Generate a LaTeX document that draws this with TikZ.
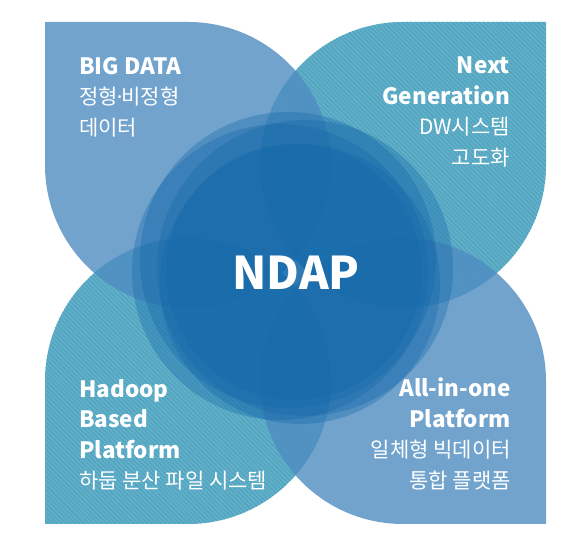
\documentclass[tikz,border=0pt]{standalone}
\usepackage{fontspec}
\setmainfont{Noto Sans CJK KR}
\newfontfamily\latinsans{Noto Sans}
\usetikzlibrary{patterns.meta}
\definecolor{petalblue}{RGB}{78,140,193}
\definecolor{petalteal}{RGB}{96,176,201}
\definecolor{stripeteal}{RGB}{80,160,190}
\definecolor{coreblue}{RGB}{20,104,170}
\newcommand{\engline}[1]{{\bfseries\fontsize{22.5}{30.5}\selectfont #1}}

\begin{document}
\begin{tikzpicture}[x=1pt, y=1pt,
  tealpetal/.style={fill=petalteal,
                    postaction={pattern={Lines[angle=-45, distance=3.2pt, line width=0.9pt]},
                                pattern color=stripeteal}},
  bluepetal/.style={fill=petalblue, fill opacity=0.8},
  blob/.style={fill=coreblue, fill opacity=0.35},
  petaltext/.style={text=white, inner sep=0pt, font=\fontsize{21}{30.5}\selectfont},
  centertext/.style={text=white, inner sep=0pt, font=\bfseries\fontsize{45}{45}\selectfont},
]
\useasboundingbox (0,0) rectangle (587,548);

%% ── Petals ────────────────────────────────────────────────────────────────
% teal ones first (top right, bottom left)
\fill[tealpetal] (546,526) -- (546,383) arc[start angle=0, end angle=-270, radius=143] -- cycle;
\fill[tealpetal] (45,24) -- (45,167) arc[start angle=180, end angle=-90, radius=143] -- cycle;
% blue ones on top (top left, bottom right)
\fill[bluepetal] (45,526) -- (188,526) arc[start angle=90, end angle=-180, radius=143] -- cycle;
\fill[bluepetal] (546,24) -- (403,24) arc[start angle=-90, end angle=-360, radius=143] -- cycle;

%% ── Centre blob ───────────────────────────────────────────────────────────
\fill[blob] (280,276) circle[radius=148];
\fill[blob] (305,280) circle[radius=148];
\fill[blob] (288,288) circle[radius=148];
\fill[blob] (300,264) circle[radius=140];
\fill[blob] (294,276) circle[radius=128];

%% ── Texts ─────────────────────────────────────────────────────────────────
\node[petaltext, anchor=north west, align=left] (bigdata) at (79,491)
  {\engline{BIG DATA}\\정형\kern-1pt{\latinsans·}\kern-1pt 비정형\\데이터};
\node[petaltext, anchor=north east, align=right] (nextgen) at (510,491)
  {\engline{Next}\\\engline{Generation}\\DW시스템\\고도화};
\node[petaltext, anchor=north west, align=left] (hadoop) at (79,169)
  {\engline{Hadoop}\\\engline{Based}\\\engline{Platform}\\하둡 분산 파일 시스템};
\node[petaltext, anchor=north east, align=right] (allinone) at (511,170)
  {\engline{All-in-one}\\\engline{Platform}\\일체형 빅데이터\\통합 플랫폼};

\node[centertext] (ndap) at (296,275) {NDAP};

\end{tikzpicture}
\end{document}
